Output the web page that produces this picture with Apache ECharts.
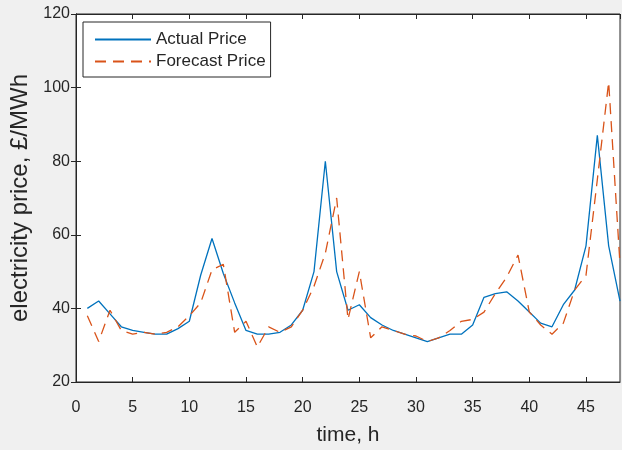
<!DOCTYPE html>
<html>
<head>
<meta charset="utf-8">
<script src="https://cdn.jsdelivr.net/npm/echarts@6/dist/echarts.min.js"></script>
<style>
html,body{margin:0;padding:0;background:#f0f0f0;}
#c{width:622px;height:450px;}
</style>
</head>
<body>
<div id="c"></div>
<script>
const hours = [1,2,3,4,5,6,7,8,9,10,11,12,13,14,15,16,17,18,19,20,21,22,23,24,25,26,27,28,29,30,31,32,33,34,35,36,37,38,39,40,41,42,43,44,45,46,47,48];
const actualPrice = [40,42,38.5,35,34,33.5,33,33,34.5,36.5,49,59,49.5,41.5,34,33,33,33.5,35.5,39.5,50,80,50,39.5,41,37.5,35.5,34,33,32,31,32,33,33,35.5,43,44,44.5,42,39,36,35,41,45,57,87,57,42];
const forecastPrice = [38,31,39.5,34,33,33.5,33,33.5,35,38,41.5,50.5,52,33.5,36.5,29.5,35,33.5,35,39.5,46,55,70,37,50,32,35,34,33,32.5,31,32,34,36.5,37,39,44,48.5,54.5,39,35.5,33,36,45,49,75,101.5,52];
const seriesNames = ['Actual Price','Forecast Price'];
const xTitle = 'time, h';
const yTitle = 'electricity price, £/MWh';

const toPairs = vals => hours.map((h,i)=>[h, vals[i]]);
const axisColor = '#262626';
const font = "'Liberation Sans', Arial, Helvetica, sans-serif";

const chart = echarts.init(document.getElementById('c'), null, {renderer:'canvas'});
chart.setOption({
  backgroundColor:'#f0f0f0',
  animation:false,
  textStyle:{fontFamily:font},
  grid:{left:76,right:2,top:14,bottom:68,containLabel:false,outerBoundsMode:'none',
        show:true,backgroundColor:'#ffffff',borderColor:axisColor,borderWidth:1},
  legend:{
    orient:'vertical', left:83, top:22,
    data:seriesNames,
    backgroundColor:'#ffffff', borderColor:axisColor, borderWidth:1, borderRadius:0,
    padding:[9,5,7,11], itemWidth:56, itemHeight:14, itemGap:5,
    itemStyle:{opacity:0},
    textStyle:{fontSize:17,color:axisColor,fontFamily:font}
  },
  xAxis:[
    {type:'value',min:0,max:48,interval:5,
     name:xTitle,nameLocation:'middle',nameGap:43,
     nameTextStyle:{fontSize:21,color:axisColor,fontFamily:font},
     axisLine:{show:true,lineStyle:{color:axisColor,width:1}},
     axisTick:{show:true,inside:true,length:5,lineStyle:{color:axisColor}},
     axisLabel:{fontSize:16,color:axisColor,margin:18,fontFamily:font,showMaxLabel:false},
     splitLine:{show:false}},
    {type:'value',min:0,max:48,interval:5,position:'top',
     axisLine:{show:true,lineStyle:{color:axisColor,width:1}},
     axisTick:{show:true,inside:true,length:5,lineStyle:{color:axisColor}},
     axisLabel:{show:false},splitLine:{show:false}}
  ],
  yAxis:[
    {type:'value',min:20,max:120,interval:20,
     name:yTitle,nameLocation:'middle',nameGap:42,
     nameTextStyle:{fontSize:24,color:axisColor,fontFamily:font},
     axisLine:{show:true,lineStyle:{color:axisColor,width:1}},
     axisTick:{show:true,inside:true,length:5,lineStyle:{color:axisColor}},
     axisLabel:{fontSize:16,color:axisColor,margin:6,fontFamily:font},
     splitLine:{show:false}},
    {type:'value',min:20,max:120,interval:20,position:'right',
     axisLine:{show:true,lineStyle:{color:axisColor,width:1}},
     axisTick:{show:true,inside:true,length:5,lineStyle:{color:axisColor}},
     axisLabel:{show:false},splitLine:{show:false}}
  ],
  series:[
    {name:seriesNames[0],type:'line',data:toPairs(actualPrice),symbol:'none',
     lineStyle:{color:'#0072BD',width:1.3},itemStyle:{color:'#0072BD'}},
    {name:seriesNames[1],type:'line',data:toPairs(forecastPrice),symbol:'none',
     lineStyle:{color:'#D95319',width:1.3,type:[11,7]},itemStyle:{color:'#D95319'}}
  ]
});
</script>
</body>
</html>
